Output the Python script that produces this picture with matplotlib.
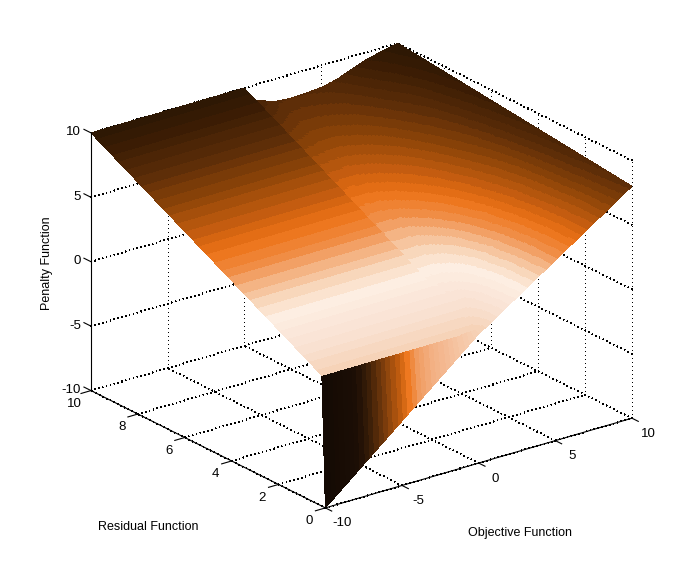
import numpy as np
import matplotlib
matplotlib.use('Agg')
import matplotlib.pyplot as plt
from matplotlib.colors import LinearSegmentedColormap, Normalize

# values, one row per residual value
objective = [-10, -0.01, 0.01, 0.5, 1, 2, 3, 4, 5, 6, 8, 10]
residual = [0, 0.15, 1, 2, 3, 4, 5, 6, 8, 10]
penalty = [
    [-10, 0.00, 0.00, 0.40, 0.80, 1.60, 2.40, 3.20, 4.00, 4.80, 6.40, 8.00],
    [0.15, 0.15, 0.15, 0.42, 0.80, 1.60, 2.40, 3.20, 4.00, 4.80, 6.40, 8.03],
    [1, 1, 1.00, 1.00, 1.05, 1.72, 2.47, 3.25, 4.03, 4.82, 6.42, 8.20],
    [2, 2, 1.95, 1.92, 1.95, 2.20, 2.72, 3.45, 4.20, 4.98, 6.58, 8.40],
    [3, 3, 2.75, 2.72, 2.73, 2.88, 3.22, 3.85, 4.52, 5.25, 6.74, 8.60],
    [4, 4, 3.60, 3.52, 3.50, 3.60, 3.94, 4.42, 5.00, 5.65, 7.00, 8.80],
    [5, 5, 4.45, 4.35, 4.30, 4.40, 4.68, 5.08, 5.55, 6.12, 7.34, 9.00],
    [6, 6, 5.30, 5.20, 5.15, 5.20, 5.42, 5.74, 6.12, 6.62, 7.71, 9.20],
    [8, 8, 7.15, 7.05, 6.98, 6.82, 6.85, 7.02, 7.26, 7.65, 8.46, 9.60],
    [10, 10, 9.00, 8.85, 8.68, 8.25, 8.15, 8.20, 8.30, 8.55, 9.45, 10.00],
]
x_ticks = [-10, -5, 0, 5, 10]
y_ticks = [0, 2, 4, 6, 8, 10]
z_ticks = [-10, -5, 0, 5, 10]

# colour against height, read along the edges of the surface
color_z = [-10, -8, -7.2, -6.2, -5.1, -4.6, -4, -3, -1, 0.15, 1, 2.4, 3, 3.7, 4.3,
           4.9, 5.35, 5.8, 7, 8.2, 9.4, 10]
colors = ['#140a04', '#1c0e05', '#3a1e08', '#7a3c0c', '#c8600f', '#ee7820', '#f09a5e',
          '#f3b084', '#f6c8a8', '#f6d3b8', '#f9e0d0', '#fdeee2', '#f8d8bc', '#f4b180',
          '#f08c44', '#ee7820', '#e06a12', '#c85e10', '#8c4408', '#5a2c08', '#3a1c04',
          '#2e1804']
stops = [(z + 10) / 20 for z in color_z]
cmap = LinearSegmentedColormap.from_list('penalty', list(zip(stops, colors)), N=64)
norm = Normalize(-10, 10)

plt.rcParams['font.family'] = ['Liberation Sans', 'DejaVu Sans']

fig = plt.figure(figsize=(6.99, 5.73), dpi=100)
S = 560
ax = fig.add_axes([73.9 / 699, 9.9 / 573, S / 699, S / 573], projection='3d', proj_type='ortho')
ax.set_box_aspect((386, 386, 279), zoom=595 / 560)
ax.view_init(elev=22.5, azim=-127.4)
ax.set_xlim(-10, 10, view_margin=0)
ax.set_ylim(0, 10, view_margin=0)
ax.set_zlim(-10, 10, view_margin=0)
ax.set_xticks([])
ax.set_yticks([])
ax.set_zticks([])
ax.set_axis_off()
ax.computed_zorder = False

# fine mesh over the read table, only so the colour bands come out smooth (shading interp)
x_fine = np.concatenate([np.linspace(-10, -0.01, 170), np.linspace(0.01, 10, 190)])
y_fine = np.concatenate([[0], np.linspace(0.15, 10, 150)])
table = np.array(penalty, dtype=float)
by_y = np.array([np.interp(y_fine, residual, table[:, j]) for j in range(len(objective))]).T
Z = np.array([np.interp(x_fine, objective, row) for row in by_y])
X, Y = np.meshgrid(x_fine, y_fine)

# grid on the back walls and the floor
grid = dict(color='k', lw=0.72, ls=(0, (1, 3)), zorder=1, antialiased=False, clip_on=False)
for x in x_ticks:
    ax.plot([x, x], [10, 10], [-10, 10], **grid)
    ax.plot([x, x], [0, 10], [-10, -10], **grid)
for y in y_ticks:
    ax.plot([10, 10], [y, y], [-10, 10], **grid)
    ax.plot([-10, 10], [y, y], [-10, -10], **grid)
for z in z_ticks:
    ax.plot([-10, 10], [10, 10], [z, z], **grid)
    ax.plot([10, 10], [0, 10], [z, z], **grid)

ax.plot_surface(X, Y, Z, facecolors=cmap(norm(Z[:-1, :-1])), rstride=1, cstride=1,
                shade=False, linewidth=0, antialiased=False, zorder=2, clip_on=False)

# axis lines and ticks
line = dict(color='k', lw=0.8, zorder=3, clip_on=False)
ax.plot([-10, -10], [10, 10], [-10, 10], **line)
ax.plot([-10, -10], [0, 10], [-10, -10], **line)
ax.plot([-10, 10], [0, 0], [-10, -10], **line)
for x in x_ticks:
    ax.plot([x, x], [0, -0.27], [-10, -10], **line)
    ax.text(x, -0.7, -10.57, str(x), ha='center', va='center', fontsize=9.5)
for y in y_ticks:
    ax.plot([-10, -10.65], [y, y], [-10, -10], **line)
    ax.text(-11.05, y, -10.66, str(y), ha='center', va='center', fontsize=9.5)
for z in z_ticks:
    ax.plot([-10, -10], [10, 10.3], [z, z], **line)
    ax.text(-10, 10.42, z - 0.35, str(z), ha='right', va='center', fontsize=9.5)

fig.text(47 / 699, 1 - 263 / 573, 'Penalty Function', rotation=90, ha='center', va='center', fontsize=9)
fig.text(148.5 / 699, 1 - 527 / 573, 'Residual Function', ha='center', va='center', fontsize=9)
fig.text(520.5 / 699, 1 - 533 / 573, 'Objective Function', ha='center', va='center', fontsize=9)

fig.savefig('out.png', dpi=100)
